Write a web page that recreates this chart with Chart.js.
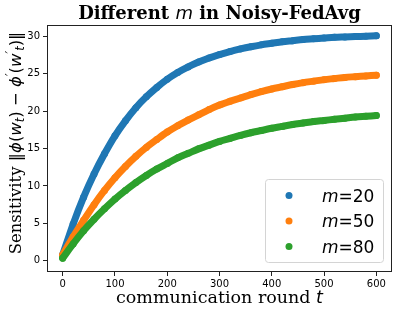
<!DOCTYPE html>
<html lang="en">
<head>
  <meta charset="UTF-8">
  <title>Different m in Noisy-FedAvg</title>
  <script src="https://cdn.jsdelivr.net/npm/chart.js"></script>
  <style>
    * { margin: 0; padding: 0; }
    body { background: #fff; width: 399px; height: 313px; overflow: hidden; }
    canvas { display: block; }
  </style>
</head>
<body>
  <canvas id="sens" width="399" height="313"></canvas>
  <script>
    // communication rounds sampled along each curve
    const rounds = [0, 20, 40, 60, 80, 100, 120, 140, 160, 180, 200, 220, 240, 260, 280, 300,
      320, 340, 360, 380, 400, 420, 440, 460, 480, 500, 520, 540, 560, 580, 600];

    // sensitivity, one list per m
    const sensM20 = [0.8, 4.9, 8.5, 11.6, 14.3, 16.7, 18.7, 20.45, 21.9, 23.15, 24.25, 25.15, 25.9, 26.55,
      27.1, 27.55, 27.95, 28.3, 28.6, 28.85, 29.05, 29.25, 29.4, 29.55, 29.65, 29.75, 29.85, 29.9, 29.95, 30.0, 30.05];
    const sensM50 = [0.8, 3.2, 5.4, 7.5, 9.4, 11.1, 12.6, 13.95, 15.15, 16.2, 17.2, 18.05, 18.8, 19.5,
      20.2, 20.8, 21.3, 21.75, 22.2, 22.6, 22.95, 23.25, 23.55, 23.8, 24.0, 24.2, 24.35, 24.5, 24.6, 24.7, 24.8];
    const sensM80 = [0.35, 2.25, 4.0, 5.55, 6.95, 8.25, 9.4, 10.45, 11.4, 12.25, 13.0, 13.75, 14.35, 14.95,
      15.45, 15.95, 16.35, 16.75, 17.1, 17.4, 17.7, 17.95, 18.2, 18.4, 18.6, 18.75, 18.9, 19.05, 19.2, 19.3, 19.4];

    const seriesNames = ['20', '50', '80'];
    const seriesColors = ['#1f77b4', '#ff7f0e', '#2ca02c'];
    const xTicks = [0, 100, 200, 300, 400, 500, 600];
    const yTicks = [0, 5, 10, 15, 20, 25, 30];

    const serif = '"DejaVu Serif", serif';
    const sans = '"DejaVu Sans", sans-serif';

    // draws a run of text pieces with their own fonts one after another
    function drawRich(ctx, parts, x, y, align) {
      let w = 0;
      parts.forEach(p => { ctx.font = p.f; w += ctx.measureText(p.t).width; });
      let cx = align === 'center' ? x - w / 2 : x;
      parts.forEach(p => {
        ctx.font = p.f;
        ctx.fillText(p.t, cx, y + (p.dy || 0));
        cx += ctx.measureText(p.t).width;
      });
    }

    const decorations = {
      id: 'decorations',
      afterDraw(chart) {
        const ctx = chart.ctx;
        const a = chart.chartArea;
        ctx.save();
        ctx.textBaseline = 'alphabetic';
        ctx.fillStyle = '#000';

        // axes frame
        ctx.strokeStyle = '#222';
        ctx.lineWidth = 1;
        ctx.strokeRect(a.left + 0.5, a.top + 0.5, a.right - a.left - 1, a.bottom - a.top - 1);

        // title
        drawRich(ctx, [
          { t: 'Different ', f: 'bold 18px ' + serif },
          { t: 'm', f: 'italic 18px ' + sans },
          { t: ' in Noisy-FedAvg', f: 'bold 18px ' + serif }
        ], (a.left + a.right) / 2, 19, 'center');

        // x label
        drawRich(ctx, [
          { t: 'communication round ', f: '17.5px ' + serif },
          { t: 't', f: 'italic 17.5px ' + sans }
        ], (a.left + a.right) / 2, 303, 'center');

        // y label, rotated
        ctx.save();
        ctx.translate(21, 143);
        ctx.rotate(-Math.PI / 2);
        const m = '16.5px ' + sans, mi = 'italic 16.5px ' + sans, sm = 'italic 11.5px ' + sans;
        drawRich(ctx, [
          { t: 'Sensitivity ', f: '16.5px ' + serif },
          { t: '\u2016', f: m },
          { t: '\u03d5', f: mi },
          { t: '(', f: m },
          { t: 'w', f: mi },
          { t: 't', f: sm, dy: 3 },
          { t: ')', f: m },
          { t: ' \u2212 ', f: m },
          { t: '\u03d5', f: mi },
          { t: '\u2032', f: sm, dy: -7 },
          { t: '(', f: m },
          { t: 'w', f: mi },
          { t: '\u2032', f: sm, dy: -7 },
          { t: 't', f: sm, dy: 3 },
          { t: ')', f: m },
          { t: '\u2016', f: m }
        ], 0, 0, 'center');
        ctx.restore();

        // legend
        const lx = 265, ly = 179, lw = 118, lh = 83;
        ctx.beginPath();
        ctx.roundRect(lx + 0.5, ly + 0.5, lw, lh, 3);
        ctx.fillStyle = 'rgba(255,255,255,0.8)';
        ctx.fill();
        ctx.strokeStyle = '#d4d4d4';
        ctx.stroke();
        seriesNames.forEach((name, i) => {
          const cy = 195.5 + i * 25.5;
          ctx.beginPath();
          ctx.arc(289, cy, 3.5, 0, Math.PI * 2);
          ctx.fillStyle = seriesColors[i];
          ctx.fill();
          ctx.fillStyle = '#000';
          drawRich(ctx, [
            { t: 'm', f: 'italic 17px ' + sans },
            { t: '=' + name, f: '17px ' + sans }
          ], 322, cy + 6, 'left');
        });
        ctx.restore();
      }
    };

    const allSeries = [sensM20, sensM50, sensM80];
    const datasets = allSeries.map((vals, i) => ({
      label: 'm=' + seriesNames[i],
      data: rounds.map((t, k) => ({ x: t, y: vals[k] })),
      showLine: true,
      borderColor: seriesColors[i],
      backgroundColor: seriesColors[i],
      borderWidth: 7,
      borderCapStyle: 'round',
      borderJoinStyle: 'round',
      cubicInterpolationMode: 'monotone',
      pointRadius: 3.5,
      pointBorderWidth: 0,
      pointHoverRadius: 3.5,
      order: 2 - i // later series sit on top, like matplotlib
    }));

    const tickFont = { family: 'DejaVu Sans', size: 10 };

    new Chart(document.getElementById('sens'), {
      type: 'scatter',
      data: { datasets },
      options: {
        responsive: false,
        animation: false,
        layout: { padding: { top: 25, right: 7, left: 0, bottom: 0 } },
        plugins: { legend: { display: false }, tooltip: { enabled: false } },
        scales: {
          x: {
            type: 'linear',
            min: -30,
            max: 630,
            afterBuildTicks: s => { s.ticks = xTicks.map(v => ({ value: v })); },
            afterFit: s => { s.height = 41; },
            grid: { drawOnChartArea: false, drawTicks: true, tickLength: 4, color: '#222' },
            border: { display: false },
            ticks: { font: tickFont, color: '#000', padding: 2, maxRotation: 0 }
          },
          y: {
            type: 'linear',
            min: -1.5,
            max: 31.5,
            afterBuildTicks: s => { s.ticks = yTicks.map(v => ({ value: v })); },
            afterFit: s => { s.width = 47; },
            grid: { drawOnChartArea: false, drawTicks: true, tickLength: 4, color: '#222' },
            border: { display: false },
            ticks: { font: tickFont, color: '#000', padding: 3 }
          }
        }
      },
      plugins: [decorations]
    });
  </script>
</body>
</html>
